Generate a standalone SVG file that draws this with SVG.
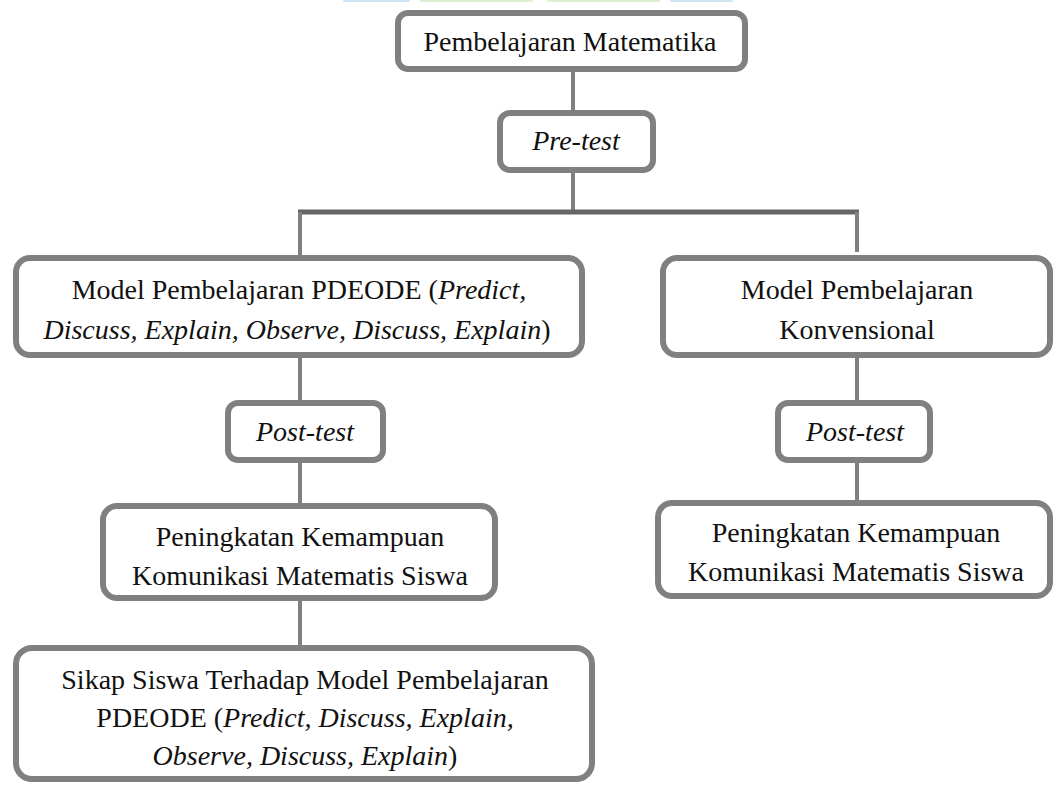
<svg xmlns="http://www.w3.org/2000/svg" width="1056" height="785" viewBox="0 0 1056 785">
<style>
.box{fill:#fff;stroke:#808080;stroke-width:6}
.t{font-family:'Liberation Serif','Times New Roman','DejaVu Serif',serif;font-size:28px;fill:#111;text-anchor:middle}
.i{font-style:italic}
.c{stroke:#808080;stroke-width:4;fill:none}
</style>
<rect width="1056" height="785" fill="#fff"/>
<g id="topstrip">
<rect x="343" y="0" width="67" height="2" rx="1" fill="#cfe6f5"/>
<rect x="420" y="0" width="113" height="2" rx="1" fill="#dcefd0"/>
<rect x="547" y="0" width="113" height="2" rx="1" fill="#dcefd0"/>
<rect x="670" y="0" width="63" height="2" rx="1" fill="#cfe6f5"/>
</g>
<g id="connectors">
<line class="c" x1="573" y1="69" x2="573" y2="113"/>
<line class="c" x1="573" y1="170" x2="573" y2="212"/>
<line x1="298" y1="212" x2="859" y2="212" stroke="#666" stroke-width="5"/>
<line class="c" x1="300" y1="212" x2="300" y2="258"/>
<line class="c" x1="857" y1="212" x2="857" y2="252"/>
<line class="c" x1="300" y1="357" x2="300" y2="403"/>
<line class="c" x1="300" y1="460" x2="300" y2="506"/>
<line class="c" x1="300" y1="598" x2="300" y2="648"/>
<line class="c" x1="857" y1="357" x2="857" y2="403"/>
<line class="c" x1="857" y1="460" x2="857" y2="503"/>
</g>
<g id="n1">
<rect class="box" x="398" y="13" width="347" height="56" rx="10"/>
<text class="t" x="570" y="51" font-family="Liberation Serif, serif">Pembelajaran Matematika</text>
</g>
<g id="n2">
<rect class="box" x="500" y="113" width="153" height="57" rx="10"/>
<text class="t i" x="576" y="150">Pre-test</text>
</g>
<g id="n3">
<rect class="box" x="16" y="258" width="566" height="97" rx="14"/>
<text class="t" x="299" y="299">Model Pembelajaran PDEODE (<tspan class="i">Predict,</tspan></text>
<text class="t" x="297" y="339"><tspan class="i">Discuss, Explain, Observe, Discuss, Explain</tspan>)</text>
</g>
<g id="n4">
<rect class="box" x="663" y="258" width="387" height="97" rx="14"/>
<text class="t" x="857" y="299">Model Pembelajaran</text>
<text class="t" x="857" y="339">Konvensional</text>
</g>
<g id="n5">
<rect class="box" x="228" y="403" width="155" height="57" rx="10"/>
<text class="t i" x="305" y="441">Post-test</text>
</g>
<g id="n6">
<rect class="box" x="778" y="403" width="152" height="57" rx="10"/>
<text class="t i" x="855" y="441">Post-test</text>
</g>
<g id="n7">
<rect class="box" x="103" y="506" width="392" height="92" rx="14"/>
<text class="t" x="300" y="546">Peningkatan Kemampuan</text>
<text class="t" x="300" y="585">Komunikasi Matematis Siswa</text>
</g>
<g id="n8">
<rect class="box" x="658" y="503" width="392" height="93" rx="14"/>
<text class="t" x="856" y="542">Peningkatan Kemampuan</text>
<text class="t" x="856" y="581">Komunikasi Matematis Siswa</text>
</g>
<g id="n9">
<rect class="box" x="16" y="648" width="576" height="131" rx="16"/>
<text class="t" x="305" y="689">Sikap Siswa Terhadap Model Pembelajaran</text>
<text class="t" x="305" y="727">PDEODE (<tspan class="i">Predict, Discuss, Explain,</tspan></text>
<text class="t" x="305" y="765"><tspan class="i">Observe, Discuss, Explain</tspan>)</text>
</g>
</svg>
